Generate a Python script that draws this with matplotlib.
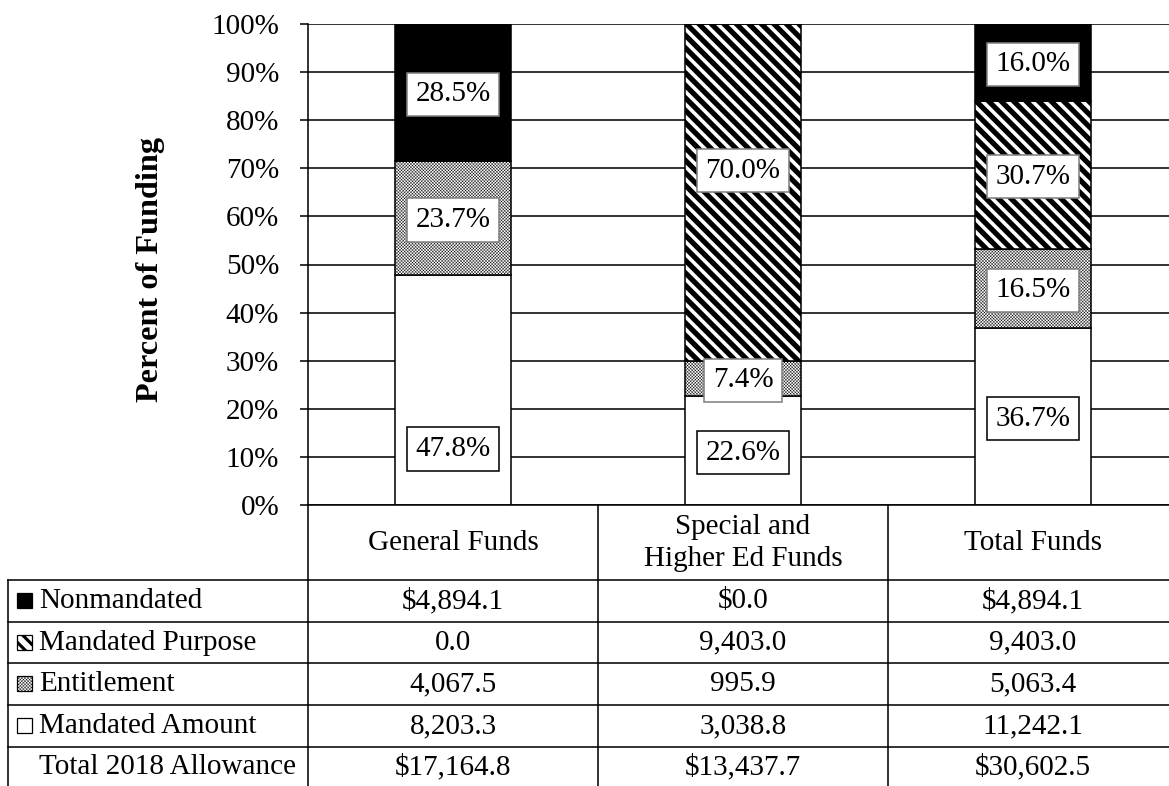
import numpy as np
import matplotlib
matplotlib.use('Agg')
import matplotlib.pyplot as plt
from matplotlib.patches import Rectangle
from matplotlib.ticker import FuncFormatter

plt.rcParams['font.family'] = ['Liberation Serif', 'DejaVu Serif']
plt.rcParams['hatch.color'] = 'black'

# data (millions of dollars), table order top -> bottom
funds = ['General Funds', 'Special and\nHigher Ed Funds', 'Total Funds']
series = ['Nonmandated', 'Mandated Purpose', 'Entitlement', 'Mandated Amount']
nonmandated = [4894.1, 0.0, 4894.1]
mandated_purpose = [0.0, 9403.0, 9403.0]
entitlement = [4067.5, 995.9, 5063.4]
mandated_amount = [8203.3, 3038.8, 11242.1]
total_allowance = [17164.8, 13437.7, 30602.5]
total_label = 'Total 2018 Allowance'

values = {
    'Nonmandated': nonmandated,
    'Mandated Purpose': mandated_purpose,
    'Entitlement': entitlement,
    'Mandated Amount': mandated_amount,
}

# style per series: face, hatch, hatch lw, label box edge
styles = {
    'Mandated Amount': dict(fc='white', hatch='', hlw=1.0, box='black'),
    'Entitlement': dict(fc='white', hatch='xxxxxxxx', hlw=0.4, box='#808080'),
    'Mandated Purpose': dict(fc='white', hatch='\\\\', hlw=5.0, box='#808080'),
    'Nonmandated': dict(fc='black', hatch='', hlw=1.0, box='#808080'),
}
# Excel moved a couple of labels off the segment centre
label_nudge = {(0, 'Mandated Amount'): -11.9, (1, 'Mandated Purpose'): 4.9}

# layout in pixels
W, H, DPI = 1169, 786, 75
plot_left, plot_top, plot_bottom = 308, 24, 505
col_w = 290
row_edges = [580, 622, 663, 705, 747]
fs = 28
lw = 1.5

fig = plt.figure(figsize=(W / DPI, H / DPI), dpi=DPI)

ax = fig.add_axes([plot_left / W, 1 - plot_bottom / H, 3 * col_w / W, (plot_bottom - plot_top) / H])

x = np.arange(len(funds))
bottom = np.zeros(len(funds))
stack = ['Mandated Amount', 'Entitlement', 'Mandated Purpose', 'Nonmandated']
for name in stack:
    pct = np.array(values[name]) / np.array(total_allowance) * 100
    st = styles[name]
    bars = ax.bar(x, pct, 0.403, bottom=bottom, color=st['fc'], edgecolor='black',
                  linewidth=lw, hatch=st['hatch'], zorder=2)
    for b in bars:
        if hasattr(b, 'set_hatch_linewidth'):
            b.set_hatch_linewidth(st['hlw'])
    for i, p in enumerate(pct):
        if p <= 0:
            continue
        yc = bottom[i] + p / 2 + label_nudge.get((i, name), 0) - 0.4
        ax.text(x[i], yc, f'{p:.1f}%', ha='center', va='center', fontsize=fs, zorder=4,
                bbox=dict(boxstyle='square,pad=0.3', fc='white', ec=st['box'], lw=lw))
    bottom += pct

ax.set_xlim(-0.5, 2.5)
ax.set_ylim(0, 100)
ax.set_yticks(np.arange(0, 101, 10))
ax.yaxis.set_major_formatter(FuncFormatter(lambda v, _: f'{v:.0f}%'))
ax.set_xticks([])
ax.grid(axis='y', color='black', linewidth=lw)
ax.set_axisbelow(True)
ax.tick_params(axis='y', direction='out', length=7.7, width=lw, pad=20, labelsize=fs)
for s in ['top', 'right']:
    ax.spines[s].set_visible(False)
ax.spines['left'].set_linewidth(lw)
ax.spines['bottom'].set_linewidth(lw)
ax.set_ylabel('Percent of Funding', fontsize=31, fontweight='bold')
ax.yaxis.set_label_coords((165 - plot_left) / (3 * col_w), 0.49)

# data table drawn underneath in pixel coordinates
tb = fig.add_axes([0, 0, 1, 1], zorder=-1)
tb.set_xlim(0, W)
tb.set_ylim(H, 0)
tb.axis('off')

table_left = 8
for y in row_edges:
    tb.plot([table_left, W], [y, y], color='black', lw=lw)
tb.plot([table_left, table_left], [row_edges[0], H], color='black', lw=lw)
for k in range(3):
    xe = plot_left + k * col_w
    tb.plot([xe, xe], [plot_bottom, H], color='black', lw=lw)

hdr_y = (plot_bottom + row_edges[0]) / 2
for k, f in enumerate(funds):
    tb.text(plot_left + (k + 0.5) * col_w, hdr_y, f, ha='center', va='center',
            fontsize=fs, linespacing=1.3)

rows = series + [total_label]
row_vals = [values[s] for s in series] + [total_allowance]
edges = row_edges + [H + 2]
for r, (name, vals) in enumerate(zip(rows, row_vals)):
    yc = (edges[r] + edges[r + 1]) / 2
    tb.text(39, yc, name, ha='left', va='center', fontsize=fs)
    if name in styles:
        st = styles[name]
        key = Rectangle((17, yc - 8), 15, 15, fc=st['fc'], ec='black', lw=1.2, hatch=st['hatch'])
        if hasattr(key, 'set_hatch_linewidth'):
            key.set_hatch_linewidth(min(st['hlw'], 3.0))
        tb.add_patch(key)
    dollar = '$' if r in (0, len(rows) - 1) else ''
    for k, v in enumerate(vals):
        tb.text(plot_left + (k + 0.5) * col_w, yc, f'{dollar}{v:,.1f}', ha='center',
                va='center', fontsize=fs)

fig.savefig('out.png', dpi=DPI)
